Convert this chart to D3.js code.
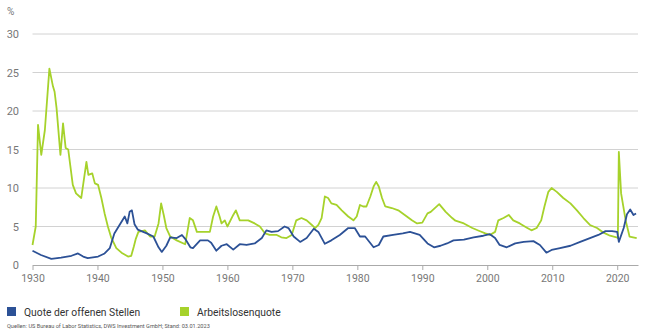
<!DOCTYPE html>
<html><head><meta charset="utf-8">
<script src="https://cdn.jsdelivr.net/npm/d3@7"></script>
<style>body{margin:0;background:#fff}svg{display:block;font-family:Roboto,"Liberation Sans",sans-serif}</style>
</head><body><svg id="c" width="650" height="335"></svg>
<script>
const yTicks = [0,5,10,15,20,25,30];
const xTicks = [1930,1940,1950,1960,1970,1980,1990,2000,2010,2020];
const seriesNames = ["Quote der offenen Stellen","Arbeitslosenquote"];
const seriesColors = ["#2c5196","#a6d22b"];
const vacancyRate = [
[1930,1.86],[1931.3,1.3],[1932.9,0.8],[1934.4,0.95],[1936,1.2],[1937,1.5],[1937.8,1.1],[1938.5,0.9],[1940.1,1.1],[1941.1,1.5],[1941.9,2.2],[1942.6,4.1],[1943.4,5.2],[1944.2,6.3],[1944.6,5.4],[1944.95,6.9],[1945.3,7.1],[1945.7,5.3],[1946.2,4.6],[1947.6,4.1],[1948.6,3.7],[1949.4,2.3],[1949.9,1.7],[1950.6,2.5],[1951.2,3.6],[1952.2,3.5],[1953,3.9],[1953.5,3.4],[1954.3,2.3],[1954.7,2.2],[1955.8,3.2],[1957,3.2],[1957.5,2.9],[1958.3,1.86],[1959.1,2.5],[1959.9,2.7],[1960.9,2.0],[1961.9,2.7],[1962.95,2.6],[1964.2,2.8],[1965.3,3.5],[1966,4.5],[1966.8,4.3],[1967.8,4.4],[1968.8,5.0],[1969.4,4.8],[1970.2,3.7],[1971.2,3.0],[1972.2,3.5],[1973.3,4.7],[1974,4.3],[1975,2.75],[1976,3.2],[1977.3,3.9],[1978.6,4.8],[1979.6,4.8],[1980.4,3.7],[1981.2,3.7],[1982.5,2.3],[1983.3,2.6],[1984,3.7],[1985.5,3.9],[1987,4.1],[1988.1,4.3],[1989.6,3.9],[1990.8,2.8],[1991.8,2.3],[1992.8,2.5],[1993.8,2.8],[1994.8,3.2],[1996.4,3.3],[1997.9,3.6],[1999.4,3.8],[2000.4,4.0],[2001.2,3.5],[2001.9,2.6],[2003,2.3],[2004.3,2.8],[2005.6,3.0],[2007.1,3.1],[2008.1,2.6],[2009.1,1.6],[2009.9,1.95],[2011.2,2.2],[2012.8,2.5],[2014.3,3.0],[2015.8,3.5],[2017.1,3.9],[2018.2,4.4],[2019.2,4.4],[2020,4.3],[2020.25,3.0],[2021,4.8],[2021.5,6.6],[2022,7.2],[2022.5,6.5],[2022.9,6.7]
];
const unemploymentRate = [
[1930,2.6],[1930.5,5],[1930.85,18.2],[1931.35,14.3],[1931.9,17.5],[1932.6,25.5],[1933.15,23.2],[1933.4,22.5],[1933.7,20.4],[1934.3,14.3],[1934.7,18.4],[1935.1,15.2],[1935.5,15.0],[1936.2,10.4],[1936.7,9.3],[1937.5,8.7],[1938.3,13.4],[1938.6,11.7],[1939.2,11.9],[1939.6,10.6],[1940.1,10.4],[1940.6,8.7],[1941.1,6.7],[1941.6,5.0],[1942.1,3.6],[1942.9,2.2],[1943.7,1.6],[1944.7,1.1],[1945.2,1.2],[1945.6,2.4],[1945.9,3.4],[1946.3,4.3],[1947.3,4.5],[1948.1,3.7],[1948.8,3.7],[1949.4,5.4],[1949.8,8.0],[1950.2,6.5],[1950.6,4.8],[1951.2,3.7],[1952.2,3.2],[1953.5,2.7],[1953.8,4.1],[1954.2,6.1],[1954.7,5.8],[1955.3,4.3],[1956.3,4.3],[1957.3,4.3],[1957.8,6.3],[1958.3,7.6],[1958.8,6.3],[1959.1,5.4],[1959.6,5.8],[1960,5.0],[1960.9,6.5],[1961.3,7.1],[1961.9,5.8],[1962.7,5.8],[1963.2,5.8],[1964.2,5.4],[1965,5.0],[1965.8,4.1],[1966.5,3.9],[1967.6,3.9],[1968.3,3.6],[1969.1,3.5],[1969.9,3.9],[1970.6,5.8],[1971.4,6.1],[1972.2,5.8],[1973,5.2],[1973.5,4.8],[1974,5.2],[1974.5,6.1],[1975,8.9],[1975.5,8.7],[1976,8.0],[1976.8,7.8],[1977.6,7.1],[1978.6,6.3],[1979.4,5.8],[1979.9,6.3],[1980.4,7.8],[1980.9,7.6],[1981.4,7.6],[1982,8.9],[1982.5,10.2],[1982.9,10.8],[1983.3,10.2],[1983.8,8.7],[1984.3,7.6],[1985.3,7.4],[1986.3,7.1],[1987.3,6.5],[1988.4,5.8],[1989.2,5.4],[1990,5.5],[1990.8,6.7],[1991.3,6.9],[1992.6,7.9],[1993.6,6.9],[1994.6,6.1],[1995.1,5.75],[1996.4,5.4],[1997.7,4.8],[1998.7,4.45],[1999.7,4.1],[2000.4,3.9],[2001.2,4.3],[2001.7,5.8],[2002.5,6.1],[2003.3,6.5],[2004,5.8],[2005,5.4],[2006.1,4.85],[2006.8,4.5],[2007.6,4.8],[2008.3,5.8],[2008.8,7.6],[2009.4,9.5],[2009.9,10.0],[2010.7,9.5],[2011.7,8.7],[2012.8,8.0],[2013.8,7.1],[2014.8,6.1],[2015.8,5.2],[2016.9,4.8],[2017.9,4.2],[2018.9,3.8],[2019.9,3.6],[2020.1,3.5],[2020.25,14.7],[2020.6,9.3],[2021.3,5.8],[2021.9,3.7],[2023,3.5]
];

const svg = d3.select("#c");
const x = d3.scaleLinear().domain([1930, 2023.2]).range([32.5, 638]);
const y = d3.scaleLinear().domain([0, 30]).range([265, 34]);
const textCol = "#777";

svg.append("g").selectAll("line").data(yTicks.filter(d => d > 0)).join("line")
  .attr("x1", x(1930)).attr("x2", x(2023.2))
  .attr("y1", d => y(d)).attr("y2", d => y(d))
  .attr("stroke", "#d2d2d2").attr("stroke-width", 1);

svg.append("g").selectAll("text").data(yTicks).join("text")
  .attr("x", 19).attr("y", d => y(d) + 4)
  .attr("text-anchor", "end").attr("font-size", 11).attr("fill", textCol)
  .text(d => d);
svg.append("text").attr("x", 7).attr("y", 15).attr("font-size", 10).attr("fill", textCol).text("%");

const xAxis = d3.axisBottom(x).tickValues(xTicks).tickFormat(d3.format("d")).tickSize(5).tickSizeOuter(0);
const gx = svg.append("g").attr("transform", `translate(0,${y(0)})`).call(xAxis);
gx.select(".domain").attr("stroke", "#aaa");
gx.selectAll(".tick line").attr("stroke", "#aaa");
gx.selectAll(".tick text").attr("font-size", 10.5).attr("fill", textCol).attr("dy", "0.9em")
  .attr("font-family", "Roboto,'Liberation Sans',sans-serif");

const line = d3.line().x(d => x(d[0])).y(d => y(d[1])).curve(d3.curveLinear);
svg.append("path").datum(unemploymentRate).attr("d", line)
  .attr("fill", "none").attr("stroke", seriesColors[1]).attr("stroke-width", 1.8).attr("stroke-linejoin", "round");
svg.append("path").datum(vacancyRate).attr("d", line)
  .attr("fill", "none").attr("stroke", seriesColors[0]).attr("stroke-width", 1.8).attr("stroke-linejoin", "round");

const lx = [7, 180];
const lg = svg.append("g").selectAll("g").data(seriesNames).join("g")
  .attr("transform", (d, i) => `translate(${lx[i]},307)`);
lg.append("rect").attr("width", 9).attr("height", 9).attr("fill", (d, i) => seriesColors[i]);
lg.append("text").attr("x", 17).attr("y", 8.5).attr("font-size", 10.3).attr("fill", "#333").text(d => d);

svg.append("text").attr("x", 7).attr("y", 328).attr("font-size", 5.6).attr("fill", "#555")
  .text("Quellen: US Bureau of Labor Statistics, DWS Investment GmbH; Stand: 03.01.2023");
</script></body></html>
